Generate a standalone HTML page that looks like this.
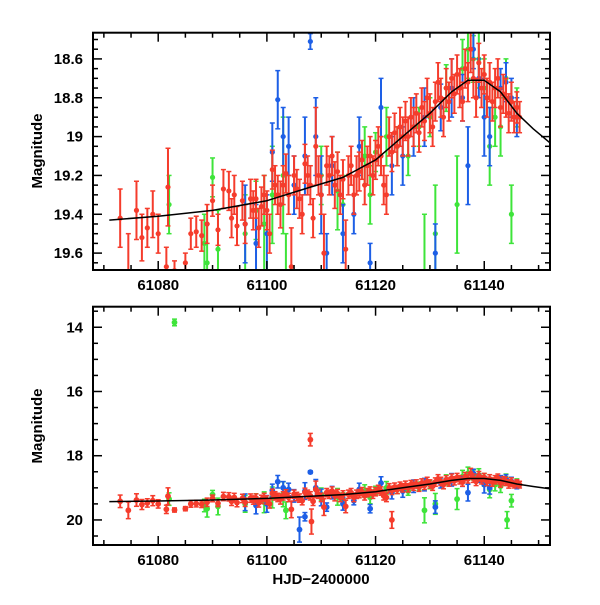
<!DOCTYPE html>
<html><head><meta charset="utf-8"><style>
html,body{margin:0;padding:0;background:#fff;}
svg text{font-family:"Liberation Sans",sans-serif;font-weight:bold;fill:#000;}
</style></head><body>
<svg id="chart" width="600" height="600" viewBox="0 0 600 600" xmlns="http://www.w3.org/2000/svg">
<g id="top"></g>
<g id="bot"></g>
<text x="0" y="0" font-size="15" text-anchor="middle" transform="translate(42,151) rotate(-90)">Magnitude</text>
<text x="0" y="0" font-size="15" text-anchor="middle" transform="translate(42,426) rotate(-90)">Magnitude</text>
<text x="321" y="584" font-size="15" text-anchor="middle">HJD−2400000</text>
</svg>
<script>
// red series: time, magnitude, error
const redT=[61073,61074.5,61076,61077,61078,61079,61080,61081.8,61081.5,61083,61085,61086,61087,61088,61089,61090,61091,61092,61093,61093.5,61094,61094.5,61095.5,61096,61097,61097.5,61098,61098.5,61099,61099.5,61100,61100.5,61101,61101.5,61102,61102.5,61103,61103.5,61104,61104.5,61105,61105.5,61106,61106.5,61107,61107.5,61108,61108.5,61109,61109.5,61110,61110.5,61111,61111.5,61112,61112.5,61113,61113.5,61114,61114.5,61115,61115.5,61116,61116.5,61117,61117.5,61118,61118.5,61119,61119.5,61120,61120.5,61121,61121.5,61122,61122.5,61123,61123.5,61124,61124.5,61125,61125.5,61126,61126.5,61127,61127.5,61128,61128.5,61129,61129.5,61130,61130.5,61131,61131.5,61132,61132.5,61133,61133.5,61134,61134.5,61135,61135.5,61136,61136.5,61137,61137.5,61138,61138.5,61139,61139.5,61140,61140.5,61141,61141.5,61142,61142.5,61143,61143.5,61144,61144.5,61145,61145.5,61146,61146.5,61108,61108.2,61123];
const redM=[19.42,19.7,19.38,19.52,19.47,19.4,19.5,19.26,19.67,19.69,19.65,19.5,19.49,19.51,19.45,19.33,19.48,19.27,19.28,19.42,19.3,19.46,19.33,19.45,19.32,19.38,19.32,19.47,19.36,19.3,19.38,19.5,19.17,19.25,19.3,19.35,19.25,19.19,19.3,19.67,19.2,19.27,19.32,19.4,19.14,19.2,19.25,19.42,19.05,19.2,19.3,19.6,19.15,19.2,19.1,19.25,19.18,19.3,19.22,19.58,19.2,19.15,19.3,19.2,19.18,19.12,19.25,19.15,19.1,19.2,19.12,19.05,19.1,19.25,19.3,19.0,19.08,18.98,19.05,18.95,19.0,18.92,19.0,18.9,18.95,18.88,18.98,18.85,18.92,18.8,18.88,18.95,18.82,18.72,18.8,18.9,18.75,18.82,18.7,18.78,18.68,18.75,18.82,18.65,18.72,18.55,18.7,18.8,18.62,18.75,18.68,18.8,18.72,18.82,18.75,18.7,18.85,18.78,18.8,18.88,18.82,18.9,18.85,18.9,17.5,20.05,20.0];
const redE=[0.15,0.2,0.15,0.12,0.1,0.12,0.1,0.2,0.1,0.05,0.05,0.08,0.08,0.08,0.1,0.08,0.08,0.1,0.1,0.1,0.1,0.1,0.1,0.1,0.1,0.1,0.1,0.1,0.1,0.1,0.1,0.1,0.1,0.1,0.1,0.12,0.1,0.1,0.1,0.2,0.1,0.1,0.1,0.1,0.1,0.1,0.1,0.1,0.2,0.1,0.1,0.2,0.1,0.1,0.1,0.12,0.1,0.1,0.1,0.15,0.1,0.1,0.1,0.1,0.1,0.1,0.1,0.1,0.1,0.1,0.1,0.1,0.1,0.1,0.1,0.1,0.1,0.1,0.1,0.1,0.1,0.1,0.1,0.1,0.1,0.1,0.1,0.1,0.1,0.1,0.1,0.1,0.1,0.1,0.1,0.1,0.1,0.1,0.1,0.1,0.1,0.1,0.1,0.1,0.1,0.12,0.1,0.1,0.1,0.1,0.1,0.1,0.1,0.1,0.1,0.1,0.1,0.1,0.1,0.1,0.1,0.08,0.08,0.08,0.15,0.3,0.2];
// green series
const greenT=[61082,61088.5,61089,61090,61091,61096,61098,61099.5,61101,61103,61103.5,61110,61113,61114,61118,61119,61120,61122,61124,61126,61128,61129,61130,61131,61133,61135,61136,61137,61138,61139,61140,61141,61142,61143,61144,61145,61146,61083,61144.2];
const greenM=[19.35,19.55,19.65,19.21,19.58,19.5,19.38,19.45,19.3,19.2,19.7,19.2,19.28,19.35,19.1,19.3,19.08,19.0,19.05,19.1,18.95,19.7,18.9,19.5,18.75,19.35,18.65,18.55,18.6,18.6,18.75,19.05,18.9,18.95,18.7,19.4,18.85,13.85,20.0];
const greenE=[0.15,0.15,0.2,0.1,0.2,0.2,0.15,0.25,0.25,0.3,0.2,0.15,0.2,0.15,0.15,0.15,0.1,0.15,0.1,0.1,0.1,0.3,0.1,0.25,0.12,0.25,0.15,0.15,0.12,0.15,0.15,0.2,0.15,0.15,0.1,0.15,0.1,0.08,0.2];
// blue series
const blueT=[61096,61098,61100,61101,61102,61103,61104,61105,61107,61108,61109,61110,61111,61112,61114,61116,61117,61119,61121,61123,61125,61127,61129,61131,61132,61134,61136,61137,61138,61139,61140,61141,61143,61144,61145,61146,61106,61107];
const blueM=[19.45,19.55,19.5,19.08,18.81,19.0,19.05,19.25,19.1,18.51,19.0,19.3,19.6,19.15,19.5,19.4,19.05,19.65,18.85,19.15,19.1,18.95,18.9,19.6,18.85,18.75,18.8,19.15,18.55,18.7,18.9,19.0,18.75,18.72,18.8,18.9,20.3,19.9];
const blueE=[0.2,0.2,0.2,0.15,0.15,0.15,0.15,0.15,0.2,0.03,0.2,0.2,0.1,0.15,0.15,0.1,0.15,0.1,0.15,0.15,0.15,0.15,0.15,0.15,0.12,0.15,0.12,0.2,0.1,0.1,0.2,0.15,0.1,0.1,0.1,0.1,0.3,0.1];
// model curve knots
const curveT=[61071,61080,61090,61100,61108,61114,61120,61125,61130,61134,61137,61140,61143,61146,61149,61152];
const curveM=[19.43,19.41,19.38,19.33,19.26,19.21,19.12,19.0,18.88,18.77,18.71,18.71,18.77,18.88,18.96,19.03];
// axis ticks
const xTicks=[61080,61100,61120,61140];
const topYTicks=[18.6,18.8,19,19.2,19.4,19.6];
const botYTicks=[14,16,18,20];

const NS='http://www.w3.org/2000/svg';
function mk(parent,tag,attrs){const e=document.createElementNS(NS,tag);for(const k in attrs)e.setAttribute(k,attrs[k]);parent.appendChild(e);return e;}
const X0=93,X1=550,T0=61068,T1=61152.1;
const xs=t=>X0+(t-T0)/(T1-T0)*(X1-X0);

function panel(g,id,Y0,Y1,M0,M1,yTicks,yMinor,errScale,rad){
  const ys=m=>Y0+(m-M0)/(M1-M0)*(Y1-Y0);
  const defs=mk(g,'defs',{});
  const cp=mk(defs,'clipPath',{id:'clip'+id});
  mk(cp,'rect',{x:X0,y:Y0,width:X1-X0,height:Y1-Y0});
  const data=mk(g,'g',{'clip-path':'url(#clip'+id+')'});
  
  
  const series=[['green',greenT,greenM,greenE,'#3ee43a'],['blue',blueT,blueM,blueE,'#1d5fe6'],['red',redT,redM,redE,'#f53c2c']];
  for(const [nm,T,M,E,col] of series){
    const sg=mk(data,'g',{});
    
    
    for(let i=0;i<T.length;i++){
      const x=xs(T[i]),y=ys(M[i]),e=Math.max(E[i]*errScale,0.04)*(Y1-Y0)/(M1-M0);
      const pg=mk(sg,'g',{});
      
      
      mk(pg,'line',{x1:x,x2:x,y1:y-e,y2:y+e,stroke:col,'stroke-width':2});
      mk(pg,'line',{x1:x-2.5,x2:x+2.5,y1:y-e,y2:y-e,stroke:col,'stroke-width':1.5});
      mk(pg,'line',{x1:x-2.5,x2:x+2.5,y1:y+e,y2:y+e,stroke:col,'stroke-width':1.5});
      mk(pg,'circle',{cx:x,cy:y,r:rad,fill:col});
    }
  }
  let d='';
  for(let i=0;i<curveT.length;i++)d+=(i?'L':'M')+xs(curveT[i]).toFixed(1)+','+ys(curveM[i]).toFixed(1);
  const cv=mk(data,'path',{d:d,fill:'none',stroke:'#000','stroke-width':1.5,'stroke-linejoin':'round'});
  
  
  const fr=mk(g,'rect',{x:X0,y:Y0,width:X1-X0,height:Y1-Y0,fill:'none',stroke:'#000','stroke-width':2});
  
  
  const tk=mk(g,'g',{stroke:'#000','stroke-width':1.5});
  
  
  for(let t=61070;t<=61150;t+=5){
    const x=xs(t),L=(t%20===0)?9:5;
    mk(tk,'line',{x1:x,x2:x,y1:Y1,y2:Y1-L});
    mk(tk,'line',{x1:x,x2:x,y1:Y0,y2:Y0+L});
  }
  for(const t of xTicks){
    const lb=mk(g,'text',{x:xs(t),y:Y1+20,'font-size':15,'text-anchor':'middle'});
    lb.textContent=String(t);
    
    
  }
  const n0=Math.ceil(M0/yMinor-1e-9),n1=Math.floor(M1/yMinor+1e-9);
  for(let n=n0;n<=n1;n++){
    const m=n*yMinor,y=ys(m);
    const isMaj=yTicks.some(v=>Math.abs(v-m)<1e-6);
    const L=isMaj?9:5;
    mk(tk,'line',{x1:X0,x2:X0+L,y1:y,y2:y});
    mk(tk,'line',{x1:X1,x2:X1-L,y1:y,y2:y});
  }
  for(const m of yTicks){
    const lb=mk(g,'text',{x:X0-10,y:ys(m)+5,'font-size':15,'text-anchor':'end'});
    lb.textContent=String(m);
    
    
  }
}
panel(document.getElementById('top'),'top',32.7,270,18.465,19.687,topYTicks,0.05,1,2.6);
panel(document.getElementById('bot'),'bottom',306.7,545,13.36,20.78,botYTicks,0.5,1.3,2.9);
</script>
</body></html>
